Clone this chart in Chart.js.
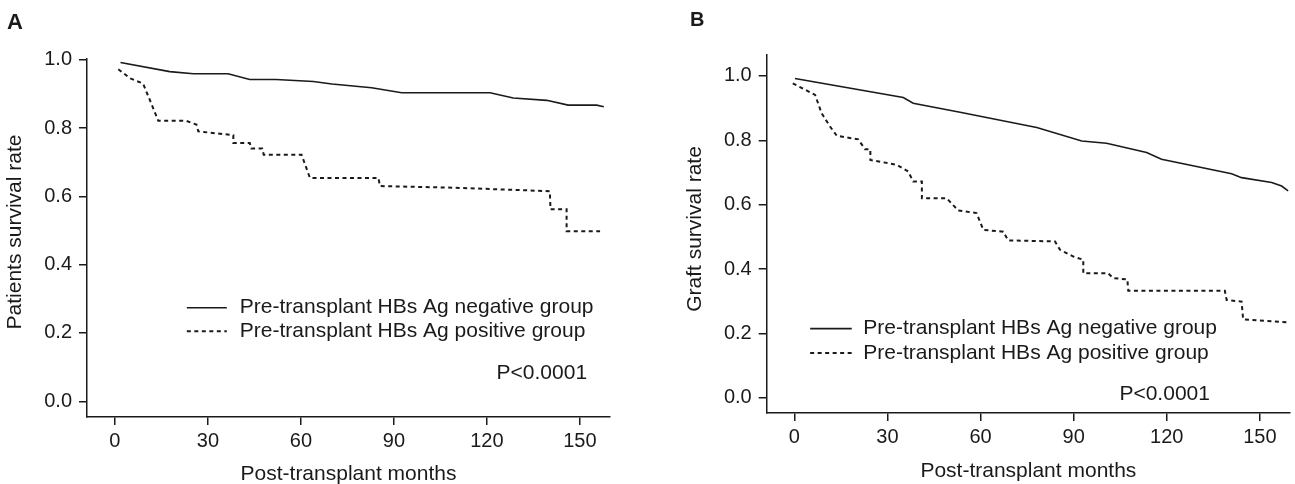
<!DOCTYPE html>
<html>
<head>
<meta charset="utf-8">
<script src="https://cdn.jsdelivr.net/npm/chart.js@4.4.1/dist/chart.umd.min.js"></script>
<style>
  html, body { margin: 0; padding: 0; background: #fff; }
  body { width: 1295px; height: 484px; position: relative; overflow: hidden; }
  .panel { position: absolute; top: 0; height: 484px; }
  #panelA { left: 0; width: 645px; }
  #panelB { left: 645px; width: 650px; }
</style>
</head>
<body>
<div class="panel" id="panelA"><canvas id="chartA" width="645" height="484"></canvas></div>
<div class="panel" id="panelB"><canvas id="chartB" width="650" height="484"></canvas></div>
<script>
const xTicks = [0, 30, 60, 90, 120, 150];
const yTicks = [0, 0.2, 0.4, 0.6, 0.8, 1.0];
const seriesLabels = ["Pre-transplant HBs Ag negative group", "Pre-transplant HBs Ag positive group"];
const xTitle = "Post-transplant months";
const pValue = "P<0.0001";

// A - patient survival
const patientNegMonths = [1.8, 17.7, 25.3, 36.5, 43.5, 52, 64, 70, 82.8, 92.5, 121, 128.5, 139.3, 146.2, 155.4, 157.7];
const patientNegRate = [0.992, 0.965, 0.959, 0.959, 0.942, 0.942, 0.936, 0.929, 0.918, 0.903, 0.903, 0.888, 0.881, 0.867, 0.867, 0.862];
const patientPosMonths = [1.1, 5, 9.1, 14, 23, 26.3, 26.9, 38.2, 38.2, 43.5, 44, 47.5, 48, 60.2, 62.9, 85, 85.5, 110, 140.3, 140.5, 145.7, 145.7, 156.5];
const patientPosRate = [0.972, 0.945, 0.930, 0.821, 0.821, 0.810, 0.790, 0.779, 0.756, 0.756, 0.740, 0.740, 0.722, 0.722, 0.654, 0.654, 0.630, 0.625, 0.615, 0.562, 0.562, 0.498, 0.498];

// B - graft survival
const graftNegMonths = [0.2, 35.1, 38.3, 53.4, 78.1, 92.6, 100.6, 113.5, 118.3, 140.9, 144.1, 153.8, 157, 159.1];
const graftNegRate = [0.992, 0.933, 0.915, 0.887, 0.840, 0.798, 0.791, 0.762, 0.741, 0.696, 0.684, 0.669, 0.658, 0.643];
const graftPosMonths = [-0.5, 6.7, 8.8, 11.5, 13.7, 20.6, 22.8, 24.5, 24.5, 33, 36.7, 38.3, 41.1, 41.1, 49.1, 52.8, 58.7, 60.9, 67.3, 68.9, 84, 85.6, 89.9, 93.1, 93.1, 101.1, 102.7, 107.3, 107.6, 138.7, 139.3, 144.1, 144.6, 159.5];
const graftPosRate = [0.977, 0.941, 0.884, 0.843, 0.814, 0.803, 0.772, 0.772, 0.739, 0.724, 0.703, 0.672, 0.672, 0.620, 0.620, 0.582, 0.574, 0.522, 0.516, 0.489, 0.486, 0.460, 0.439, 0.429, 0.387, 0.387, 0.372, 0.368, 0.333, 0.333, 0.304, 0.299, 0.244, 0.234];

const INK = "#1a1a1a";
const FONT = '"Liberation Sans", Arial, Helvetica, sans-serif';
Chart.defaults.font.family = FONT;
Chart.defaults.color = INK;

const toPoints = (xs, ys) => xs.map((x, i) => ({ x: x, y: ys[i] }));

// text, legend and p-value drawn inside the plot like the original figure
const panelText = {
  id: "panelText",
  afterDraw(chart, args, opts) {
    const { ctx, chartArea, scales } = chart;
    const sx = scales.x, sy = scales.y;
    ctx.save();
    ctx.fillStyle = INK;
    ctx.strokeStyle = INK;
    ctx.textBaseline = "middle";

    ctx.font = `bold ${opts.letterSize}px ${FONT}`;
    ctx.textAlign = "left";
    ctx.fillText(opts.letter, opts.letterX, opts.letterY);

    ctx.font = `21px ${FONT}`;
    ctx.textAlign = "center";
    ctx.fillText(xTitle, (chartArea.left + chartArea.right) / 2, opts.xTitleY);

    ctx.save();
    ctx.translate(opts.yTitleX, opts.yTitleY);
    ctx.rotate(-Math.PI / 2);
    ctx.fillText(opts.yTitle, 0, 0);
    ctx.restore();

    // legend
    const lg = opts.legend;
    ctx.textAlign = "left";
    chart.data.datasets.forEach((ds, i) => {
      const yy = sy.getPixelForValue(lg.rows[i]);
      ctx.beginPath();
      ctx.lineWidth = ds.borderWidth;
      ctx.setLineDash(ds.borderDash || []);
      ctx.moveTo(sx.getPixelForValue(lg.x0), yy);
      ctx.lineTo(sx.getPixelForValue(lg.x1), yy);
      ctx.stroke();
      ctx.setLineDash([]);
      ctx.fillText(ds.label, sx.getPixelForValue(lg.textX), yy);
    });

    ctx.textAlign = "right";
    ctx.fillText(pValue, sx.getPixelForValue(opts.pAt[0]), sy.getPixelForValue(opts.pAt[1]));
    ctx.restore();
  }
};

function makeChart(id, cfg) {
  return new Chart(document.getElementById(id), {
    type: "scatter",
    data: {
      datasets: [
        {
          label: seriesLabels[0],
          data: toPoints(cfg.negMonths, cfg.negRate),
          showLine: true, pointRadius: 0,
          borderColor: INK, borderWidth: 1.6
        },
        {
          label: seriesLabels[1],
          data: toPoints(cfg.posMonths, cfg.posRate),
          showLine: true, pointRadius: 0,
          borderColor: INK, borderWidth: 2, borderDash: [4, 3.5]
        }
      ]
    },
    options: {
      responsive: false,
      animation: false,
      events: [],
      layout: { padding: cfg.padding },
      scales: {
        x: {
          type: "linear",
          min: cfg.xMin, max: cfg.xMax,
          afterBuildTicks: s => { s.ticks = xTicks.map(v => ({ value: v })); },
          afterFit: s => { s.height = cfg.xAxisHeight; },
          grid: { drawOnChartArea: false, tickLength: 8, color: INK, lineWidth: 1.5 },
          border: { color: INK, width: 1.5 },
          ticks: { padding: 4, autoSkip: false, maxRotation: 0, font: { size: 20 }, callback: v => String(v) }
        },
        y: {
          type: "linear",
          min: cfg.yMin, max: cfg.yMax,
          afterBuildTicks: s => { s.ticks = yTicks.map(v => ({ value: v })); },
          afterFit: s => { s.width = cfg.yAxisWidth; },
          grid: { drawOnChartArea: false, tickLength: 8, color: INK, lineWidth: 1.5 },
          border: { color: INK, width: 1.5 },
          ticks: { padding: 7, autoSkip: false, font: { size: 20 }, callback: v => v.toFixed(1) }
        }
      },
      plugins: {
        legend: { display: false },
        tooltip: { enabled: false },
        panelText: cfg.text
      }
    },
    plugins: [panelText]
  });
}

makeChart("chartA", {
  negMonths: patientNegMonths, negRate: patientNegRate,
  posMonths: patientPosMonths, posRate: patientPosRate,
  xMin: -9, xMax: 159.7, yMin: -0.046, yMax: 1.002,
  padding: { left: 0, right: 35, top: 59, bottom: 0 },
  yAxisWidth: 87, xAxisHeight: 67,
  text: {
    letter: "A", letterSize: 22, letterX: 7, letterY: 23,
    yTitle: "Patients survival rate", yTitleX: 15, yTitleY: 232,
    xTitleY: 474,
    legend: { x0: 23.2, x1: 36.1, textX: 40.3, rows: [0.274, 0.205] },
    pAt: [152.3, 0.082]
  }
});

makeChart("chartB", {
  negMonths: graftNegMonths, negRate: graftNegRate,
  posMonths: graftPosMonths, posRate: graftPosRate,
  xMin: -8.9, xMax: 159.7, yMin: -0.047, yMax: 1.065,
  padding: { left: 0, right: 5, top: 55, bottom: 0 },
  yAxisWidth: 121.7, xAxisHeight: 71,
  text: {
    letter: "B", letterSize: 20, letterX: 45, letterY: 20,
    yTitle: "Graft survival rate", yTitleX: 50, yTitleY: 229,
    xTitleY: 471,
    legend: { x0: 5.1, x1: 18.5, textX: 22.2, rows: [0.215, 0.139] },
    pAt: [133.9, 0.012]
  }
});
</script>
</body>
</html>
